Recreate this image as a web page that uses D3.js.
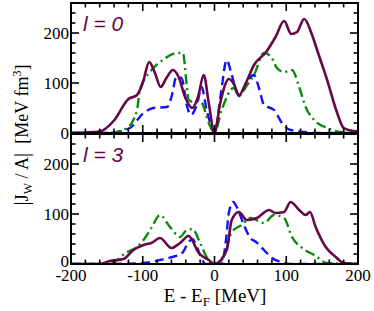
<!DOCTYPE html>
<html><head><meta charset="utf-8">
<script src="https://cdn.jsdelivr.net/npm/d3@7"></script>
<style>html,body{margin:0;padding:0;background:#fff;}svg{display:block;}</style>
</head><body>
<svg id="c" width="374" height="311"></svg>
<script>
// ---- data ----
const xTicks = [-200, -100, 0, 100, 200];
const yTicks = [0, 100, 200];
const panelLabels = ["l = 0", "l = 3"];

// l = 0 panel
const l0_solid = [[-200,0],[-160,3],[-140,25],[-120,68],[-108,76],[-100,100],[-91,142],[-83,120],[-75,92],[-67,110],[-58,126],[-50,112],[-41,72],[-31,50],[-23,72],[-15,116],[-8,60],[0,0],[8,60],[20,108],[27,98],[34,76],[45,104],[55,136],[72,162],[85,192],[97,224],[107,198],[115,202],[125,228],[135,200],[143,166],[157,106],[171,40],[180,10],[190,5],[200,3]];
const l0_dashdot = [[-200,0],[-146,0],[-122,10],[-108,46],[-104,86],[-90,122],[-72,146],[-52,160],[-44,160],[-39,100],[-36,66],[-29,62],[-19,62],[-8,20],[0,0],[10,46],[27,90],[34,74],[45,95],[55,116],[69,160],[79,152],[87,130],[97,122],[108,126],[118,92],[127,52],[139,26],[157,10],[176,2],[200,0]];
const l0_dashed = [[-200,0],[-146,0],[-118,10],[-99,40],[-85,50],[-66,52],[-60,72],[-53,112],[-46,110],[-38,52],[-33,36],[-24,60],[-18,92],[-11,46],[-4,12],[0,0],[9,80],[17,146],[23,122],[30,86],[34,74],[45,102],[55,116],[62,90],[69,56],[83,46],[94,20],[106,6],[125,2],[140,0],[200,0]];

// l = 3 panel
const l3_solid = [[-200,0],[-160,0],[-146,6],[-127,10],[-113,28],[-99,38],[-88,42],[-76,52],[-60,32],[-48,42],[-36,56],[-22,22],[-8,8],[0,0],[17,28],[24,88],[34,104],[45,88],[59,92],[76,108],[85,102],[97,104],[106,124],[118,108],[127,98],[133,104],[141,74],[155,34],[169,14],[180,2],[200,0]];
const l3_dashdot = [[-200,0],[-146,0],[-122,24],[-108,34],[-99,48],[-88,72],[-76,98],[-62,74],[-48,54],[-40,66],[-31,70],[-20,42],[-11,14],[-3,0],[0,0],[13,14],[24,64],[38,78],[50,92],[69,82],[83,98],[97,92],[108,54],[122,32],[139,18],[157,2],[200,0]];
const l3_dashed = [[-200,0],[-150,0],[-100,2],[-76,8],[-59,14],[-45,22],[-36,44],[-31,50],[-24,32],[-17,8],[-12,0],[10,0],[16,48],[20,102],[26,124],[31,114],[41,78],[50,52],[58,44],[69,28],[80,12],[92,4],[105,0],[200,0]];

const panels = [
  {label: panelLabels[0], series: [l0_dashed, l0_dashdot, l0_solid]},
  {label: panelLabels[1], series: [l3_dashed, l3_dashdot, l3_solid]}
];
const styles = [
  {color: "#1010ff", dash: "9,5", w: 2.4},
  {color: "#0a8a0a", dash: "10,4,2,4", w: 2.4},
  {color: "#670748", dash: null, w: 2.6}
];

// ---- layout ----
const svg = d3.select("#c");
const L = 71, R = 358;
const panelBox = [{top: 3, bottom: 133}, {top: 134, bottom: 264}];
const x = d3.scaleLinear().domain([-200, 200]).range([L, R]);
const serif = "'Liberation Serif','Times New Roman',serif";

panels.forEach((p, i) => {
  const b = panelBox[i];
  const y = d3.scaleLinear().domain([0, 260]).range([b.bottom, b.top]);
  const g = svg.append("g");
  const clipId = "clip" + i;
  svg.append("clipPath").attr("id", clipId).append("rect")
    .attr("x", L).attr("y", b.top).attr("width", R - L).attr("height", b.bottom - b.top);

  const line = d3.line().x(d => x(d[0])).y(d => y(d[1])).curve(d3.curveMonotoneX);
  p.series.forEach((s, k) => {
    g.append("path").attr("d", line(s)).attr("fill", "none")
      .attr("stroke", styles[k].color).attr("stroke-width", styles[k].w)
      .attr("stroke-dasharray", styles[k].dash)
      .attr("stroke-linejoin", "round")
      .attr("clip-path", `url(#${clipId})`);
  });

  // ticks (inward, all sides)
  const minorX = d3.range(-200, 201, 20), minorY = d3.range(0, 261, 20);
  const tk = g.append("g").attr("stroke", "#000").attr("stroke-width", 1.6);
  minorX.forEach(v => {
    const len = v % 100 === 0 ? 8 : 4.5;
    tk.append("line").attr("x1", x(v)).attr("x2", x(v)).attr("y1", b.bottom).attr("y2", b.bottom - len);
    tk.append("line").attr("x1", x(v)).attr("x2", x(v)).attr("y1", b.top).attr("y2", b.top + len);
  });
  minorY.forEach(v => {
    const len = v % 100 === 0 ? 8 : 4.5;
    tk.append("line").attr("y1", y(v)).attr("y2", y(v)).attr("x1", L).attr("x2", L + len);
    tk.append("line").attr("y1", y(v)).attr("y2", y(v)).attr("x1", R).attr("x2", R - len);
  });
  // frame
  g.append("rect").attr("x", L).attr("y", b.top).attr("width", R - L).attr("height", b.bottom - b.top)
    .attr("fill", "none").attr("stroke", "#000").attr("stroke-width", 2);

  // y tick labels
  yTicks.forEach(v => {
    const dy = (i === 1 && v === 0) ? 3 : 6;
    g.append("text").attr("x", L - 2).attr("y", y(v) + dy)
      .attr("text-anchor", "end").attr("font-family", serif).attr("font-size", 17)
      .text(v);
  });

  // panel label
  g.append("text").attr("x", 83).attr("y", b.top + 28)
    .attr("font-family", "'Liberation Sans',Arial,sans-serif").attr("font-style", "italic")
    .attr("font-size", 21).attr("fill", "#670748").text(p.label);
});

// x tick labels
xTicks.forEach(v => {
  svg.append("text").attr("x", x(v)).attr("y", 281).attr("text-anchor", "middle")
    .attr("font-family", serif).attr("font-size", 17).text(v);
});

// x axis label
const xl = svg.append("text").attr("x", 215).attr("y", 302).attr("text-anchor", "middle")
  .attr("font-family", serif).attr("font-size", 19);
xl.append("tspan").text("E - E");
xl.append("tspan").attr("font-size", 13).attr("dy", 4).text("F");
xl.append("tspan").attr("dy", -4).text(" [MeV]");

// y axis label
const yl = svg.append("text").attr("transform", "translate(28,135) rotate(-90)")
  .attr("text-anchor", "middle").attr("font-family", serif).attr("font-size", 18);
yl.append("tspan").attr("font-size", 21).text("|");
yl.append("tspan").text("J");
yl.append("tspan").attr("font-size", 12).attr("dy", 4).text("W");
yl.append("tspan").attr("dy", -4).text(" / A");
yl.append("tspan").attr("font-size", 21).text("|");
yl.append("tspan").text("\u00a0\u00a0[MeV fm");
yl.append("tspan").attr("font-size", 12).attr("dy", -7).text("3");
yl.append("tspan").attr("dy", 7).text("]");
</script>
</body></html>
